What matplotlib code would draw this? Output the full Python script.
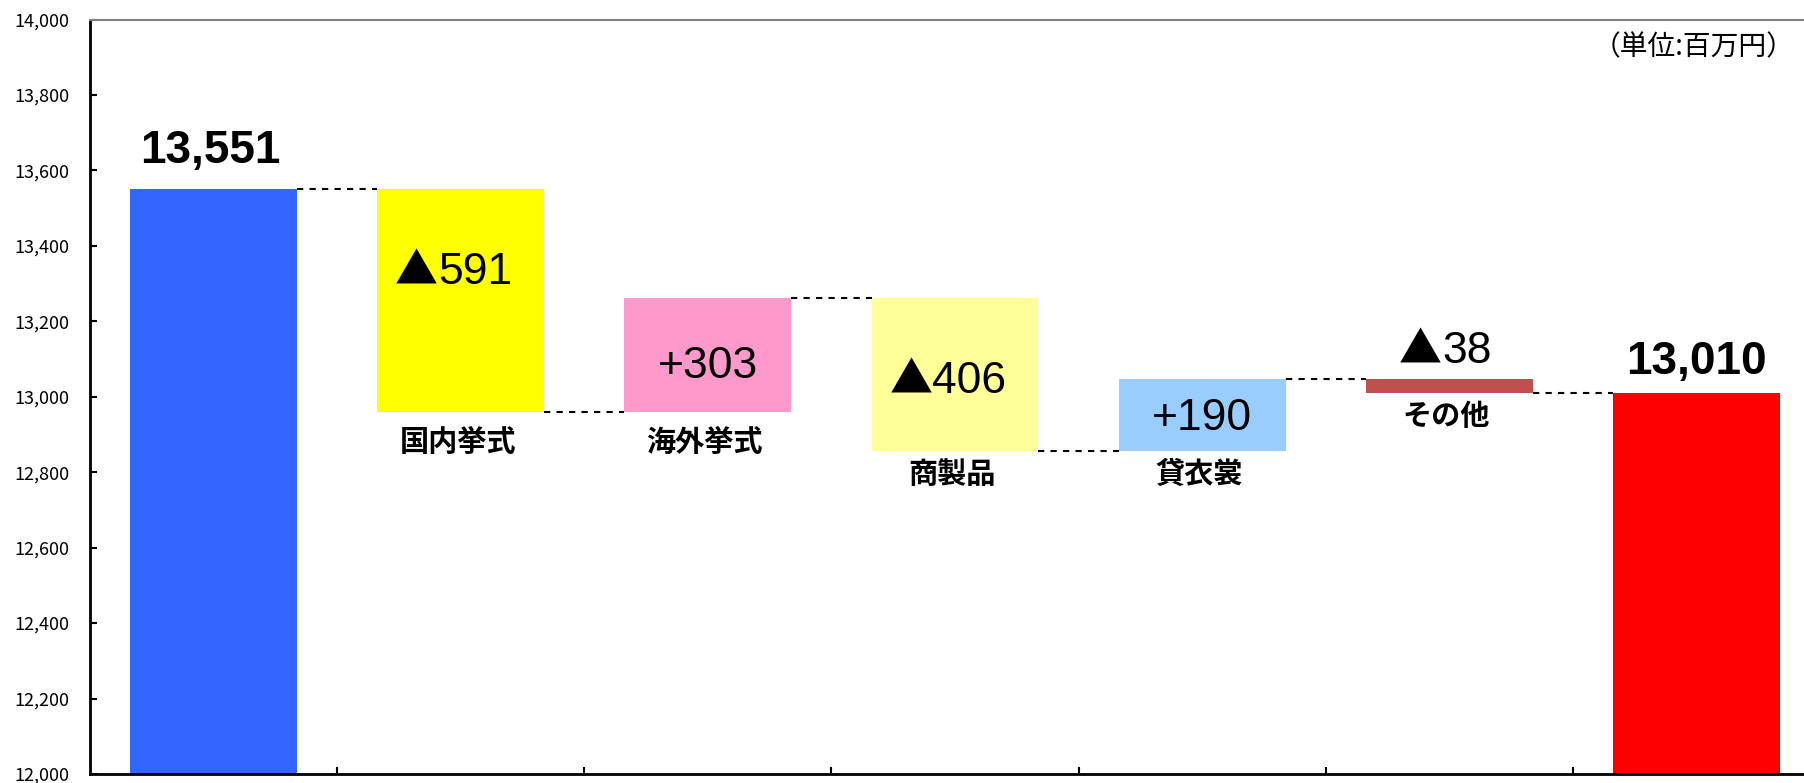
import matplotlib
matplotlib.use("Agg")
import matplotlib.pyplot as plt
import numpy as np

plt.rcParams['font.family'] = ['Noto Sans CJK JP', 'DejaVu Sans']

# 売上高の増減内訳（単位: 百万円）
start_value = 13551
end_value = 13010
categories = ['', '国内挙式', '海外挙式', '商製品', '貸衣裳', 'その他', '']
deltas = [-591, 303, -406, 190, -38]
bar_colors = ['#3366FF', '#FFFF00', '#FF99CC', '#FFFF99', '#99CCFF', '#C0504D', '#FF0000']
yticks = np.arange(12000, 14001, 200)

# bottoms / tops of each floating bar
levels = np.concatenate([[start_value], start_value + np.cumsum(deltas)])
bottoms = [12000] + [min(levels[i], levels[i + 1]) for i in range(len(deltas))] + [12000]
tops = [start_value] + [max(levels[i], levels[i + 1]) for i in range(len(deltas))] + [end_value]
ends = [start_value] + list(levels[1:-1]) + [end_value, end_value]

fig = plt.figure(figsize=(18.04, 7.83), dpi=100)
ax = fig.add_axes([90 / 1804, 1 - 774 / 783, 1730 / 1804, 754.5 / 783])

x = np.arange(len(categories))
w = 0.675
heights = np.array(tops) - np.array(bottoms)
ax.bar(x, heights, bottom=bottoms, width=w, color=bar_colors, zorder=2)

# dashed connectors between neighbouring bars
for i in range(len(categories) - 1):
    ax.plot([x[i] + w / 2, x[i + 1] - w / 2], [ends[i], ends[i]],
            color='black', ls=(0, (3, 3)), lw=1.5, zorder=1)

ax.set_xlim(-0.5, 6.5)
ax.set_ylim(12000, 14000)
ax.set_yticks(yticks)
ax.set_yticklabels([f'{v:,}' for v in yticks], fontsize=13)
ax.set_xticks(np.arange(0.5, 6, 1))
ax.set_xticklabels([])
ax.tick_params(direction='in', length=5, width=1.5, pad=15)

for s in ['left', 'bottom']:
    ax.spines[s].set_linewidth(2)
ax.spines['top'].set_color('#808080')
ax.spines['top'].set_linewidth(1.5)
ax.spines['right'].set_visible(False)

num_font = 'Liberation Sans'
renderer = fig.canvas.get_renderer()


def change_label(xi, y, value, dx, dy):
    # ▲ = decrease (taken from the CJK font), + = increase
    num = f'{abs(value)}'
    base = dy - 16
    if value < 0:
        t1 = ax.annotate('▲', (xi, y), xytext=(0, base), textcoords='offset pixels',
                         ha='left', va='baseline', fontsize=31, family='Noto Sans CJK JP')
        t2 = ax.annotate(num, (xi, y), xytext=(0, base), textcoords='offset pixels',
                         ha='left', va='baseline', fontsize=32, family=num_font)
        w1 = t1.get_window_extent(renderer).width
        w2 = t2.get_window_extent(renderer).width
        x0 = dx - (w1 + w2) / 2
        t1.xyann = (x0, base)
        t2.xyann = (x0 + w1, base)
    else:
        ax.annotate('+' + num, (xi, y), xytext=(dx, base), textcoords='offset pixels',
                    ha='center', va='baseline', fontsize=32, family=num_font)


# totals at both ends
ax.annotate(f'{start_value:,}', (x[0], start_value), xytext=(-3, 38), textcoords='offset pixels',
            ha='center', va='center', fontsize=33, fontweight='bold', family=num_font)
ax.annotate(f'{end_value:,}', (x[-1], end_value), xytext=(0, 31), textcoords='offset pixels',
            ha='center', va='center', fontsize=33, fontweight='bold', family=num_font)

# change labels and category names
label_dy = [32, -7, -3, 1]
name_dy = [30, 30, 23, 23, 23]
for i, d in enumerate(deltas):
    xi = x[i + 1]
    b, t = bottoms[i + 1], tops[i + 1]
    if i < len(label_dy):
        change_label(xi, (b + t) / 2, d, -7 if d < 0 else 0, label_dy[i])
    else:
        change_label(xi, t, d, -4, 32)
    ax.annotate(categories[i + 1], (xi, b), xytext=(-3, -name_dy[i]), textcoords='offset pixels',
                ha='center', va='center', fontsize=21, fontweight='bold')

fig.text(1795 / 1804, 1 - 47 / 783, '（単位:百万円）', ha='right', va='center', fontsize=20)

fig.savefig('out.png', dpi=100)
